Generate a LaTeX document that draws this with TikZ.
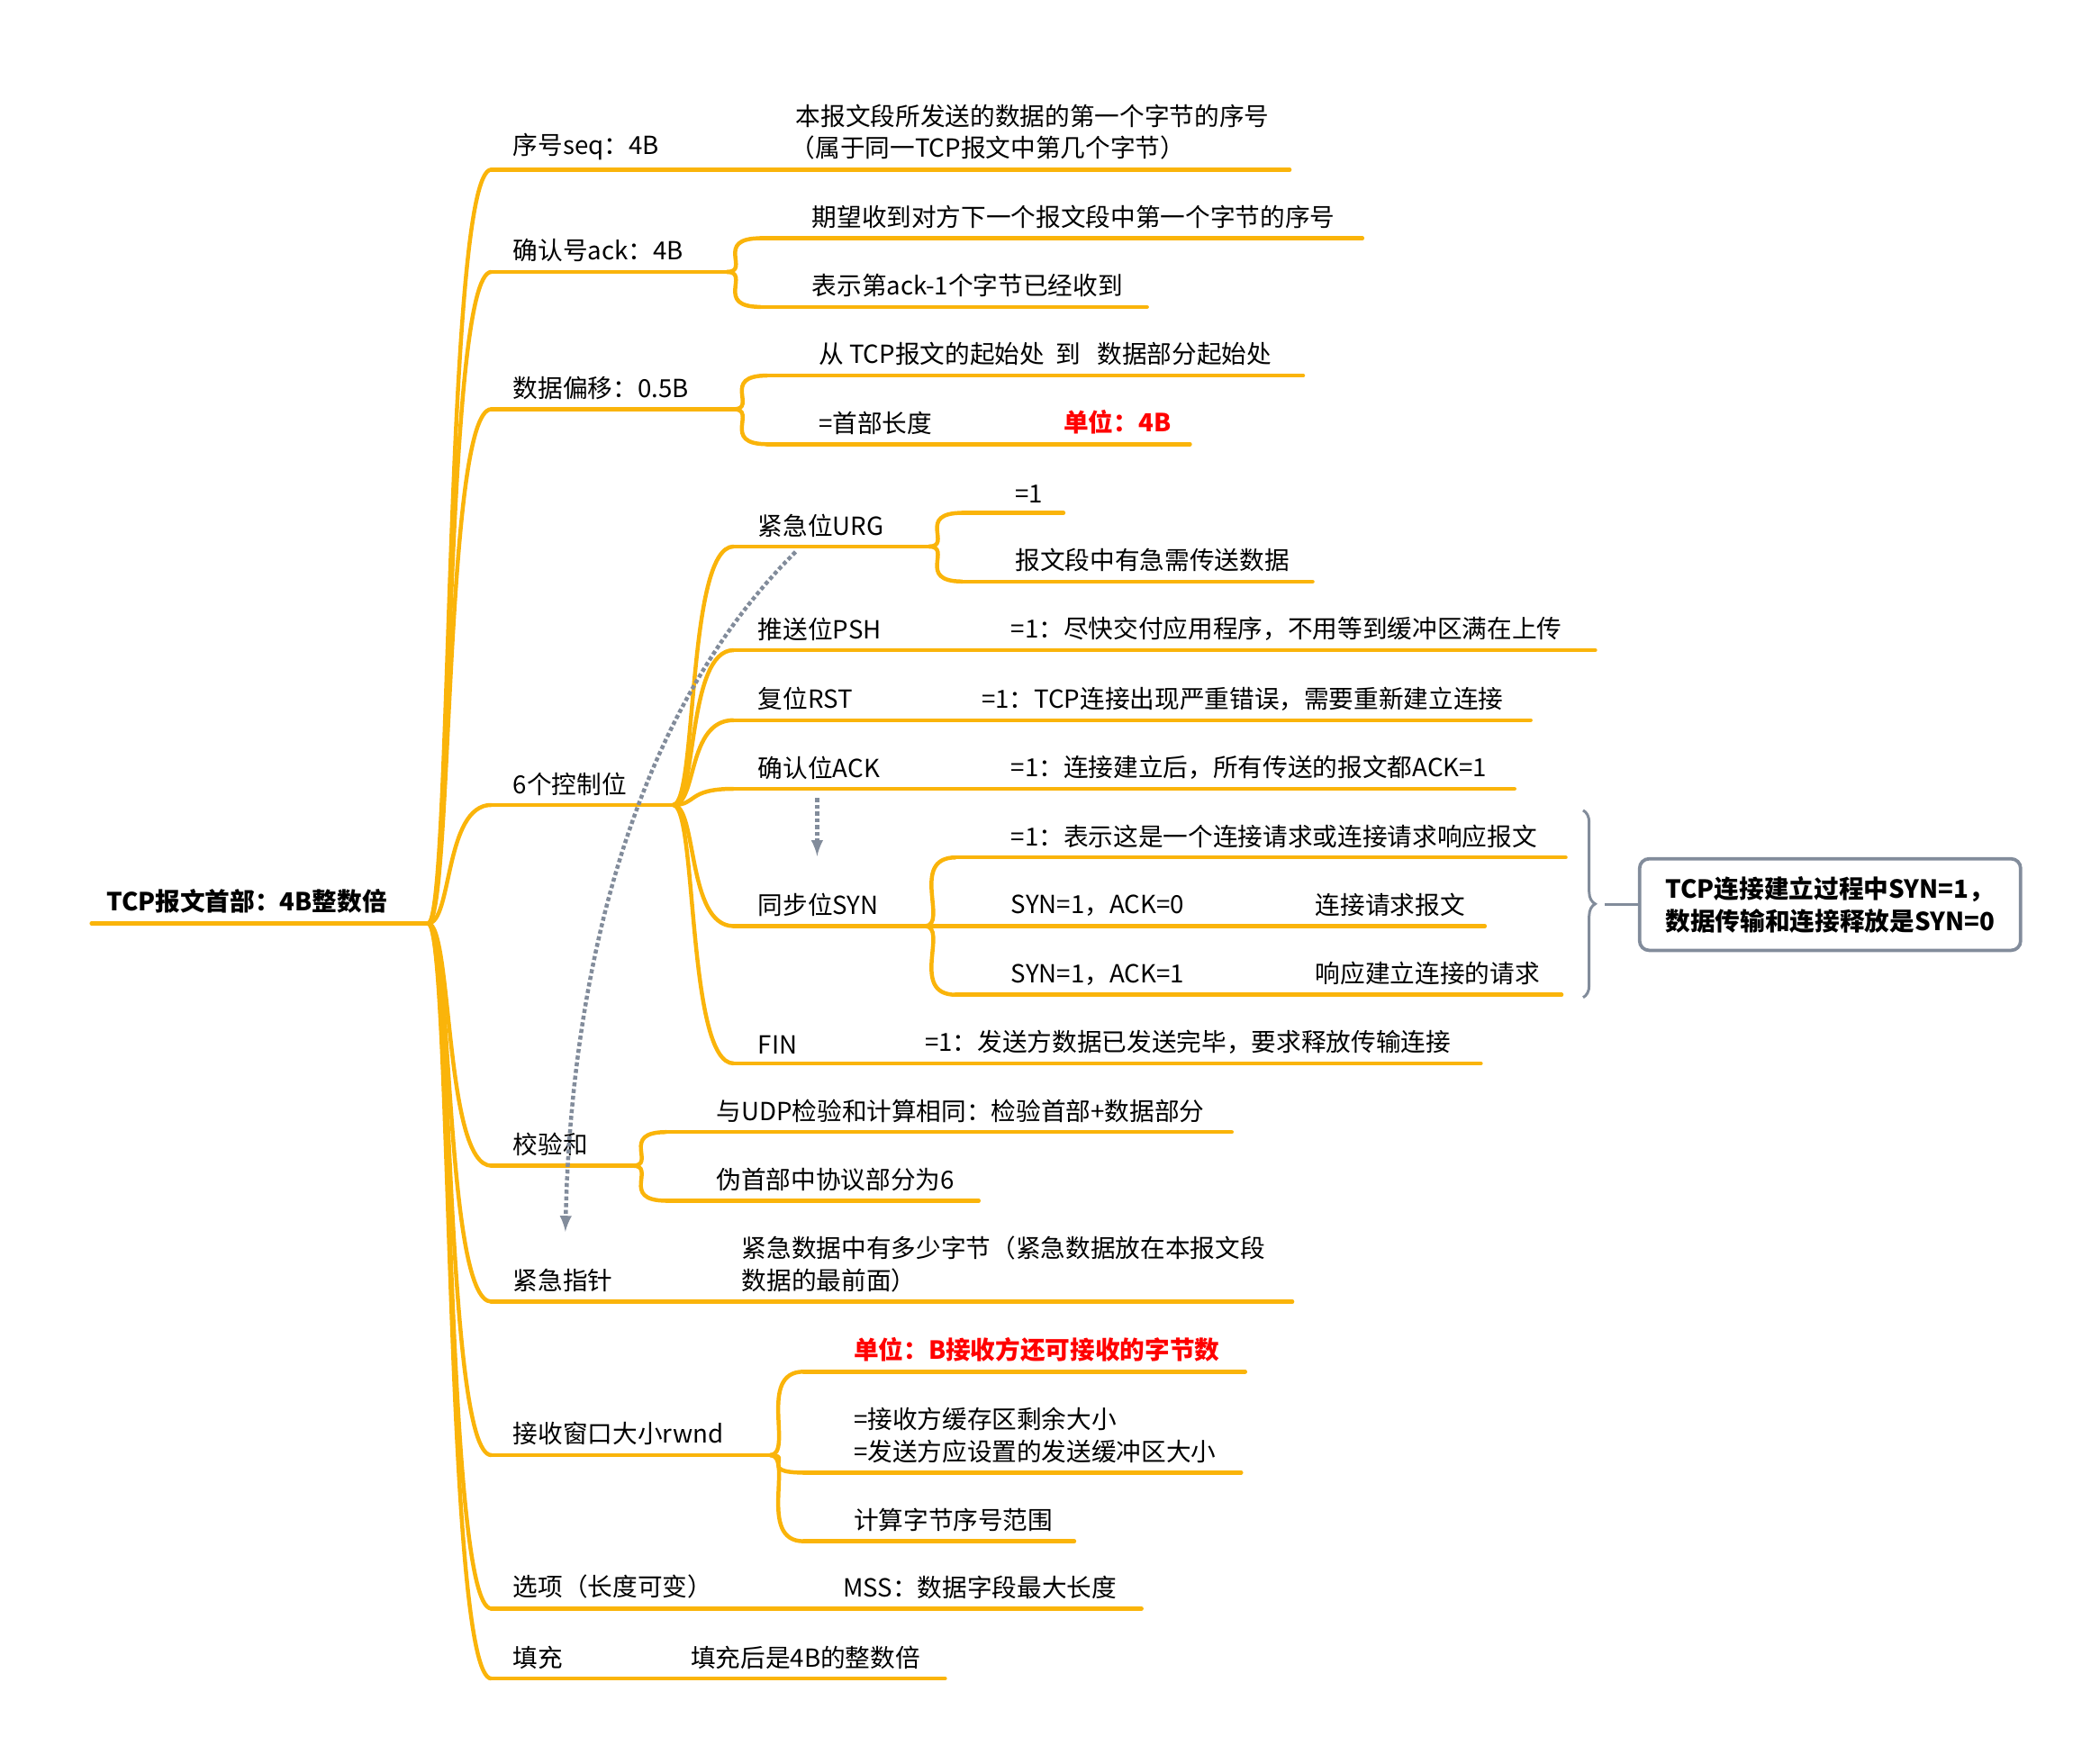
\documentclass[tikz,border=0pt]{standalone}
\usepackage{fontspec}
\setmainfont{Noto Sans CJK SC}
\usetikzlibrary{decorations.pathreplacing}
\definecolor{branch}{RGB}{250,180,10}
\definecolor{note}{RGB}{130,140,155}
\tikzset{
  twig/.style={draw=branch,line width=3pt,line cap=round},
  conn/.style={draw=branch,line width=3pt},
  lbl/.style={anchor=south west,inner sep=1pt,font=\fontsize{18.5}{24}\selectfont,align=left},
  hot/.style={lbl,text=red,font=\fontsize{18.5}{24}\selectfont\bfseries},
  hint/.style={draw=note,line width=3pt,dotted,-latex}
}
% underline of one topic: name, x start, x end, y
\newcommand\twig[4]{\coordinate (#1-s) at (#2,#4); \coordinate (#1-e) at (#3,#4);
  \draw[twig] (#1-s) -- (#1-e);}
\newcommand\link[2]{\draw[conn] (#1-e) .. controls +(18,0) and +(-35,0) .. (#2-s);}

\begin{document}
\begin{tikzpicture}[x=1pt,y=-1pt]
\useasboundingbox (0,0) rectangle (1560,1310);
% root
\twig{root}{68}{318}{686}
\node[lbl,font=\fontsize{18.5}{24}\selectfont\bfseries] (rootT) at (78,680) {TCP报文首部：4B整数倍};
% first level
\twig{seq}{365}{958}{126}
\twig{ack}{365}{540}{202}
\twig{off}{365}{545}{304}
\twig{ctl}{365}{500}{598}
\twig{chk}{365}{470}{866}
\twig{ptr}{365}{960}{967}
\twig{win}{365}{572}{1081}
\twig{opt}{365}{848}{1195}
\twig{pad}{365}{702}{1247}
\foreach \c in {seq,ack,off,ctl,chk,ptr,win,opt,pad}{\link{root}{\c}}
\node[lbl] (seqT) at (380,120) {序号seq：4B};
\node[lbl] (seqD) at (586,120) {\ 本报文段所发送的数据的第一个字节的序号\\（属于同一TCP报文中第几个字节）};
\node[lbl] (ackT) at (380,196) {确认号ack：4B};
\node[lbl] (offT) at (380,298) {数据偏移：0.5B};
\node[lbl] (ctlT) at (380,592) {6个控制位};
\node[lbl] (chkT) at (380,860) {校验和};
\node[lbl] (ptrT) at (380,961) {紧急指针};
\node[lbl] (ptrD) at (550,961) {紧急数据中有多少字节（紧急数据放在本报文段\\数据的最前面）};
\node[lbl] (winT) at (380,1075) {接收窗口大小rwnd};
\node[lbl] (optT) at (380,1189) {选项（长度可变）};
\node[lbl] (optD) at (625,1189) {MSS：数据字段最大长度};
\node[lbl] (padT) at (380,1241) {填充};
\node[lbl] (padD) at (512,1241) {填充后是4B的整数倍};
% ack
\twig{ackA}{565}{1012}{177} \twig{ackB}{565}{852}{228}
\link{ack}{ackA} \link{ack}{ackB}
\node[lbl] at (602,171) {期望收到对方下一个报文段中第一个字节的序号};
\node[lbl] at (602,222) {表示第ack-1个字节已经收到};
% offset
\twig{offA}{570}{968}{279} \twig{offB}{570}{884}{330}
\link{off}{offA} \link{off}{offB}
\node[lbl] at (607,273) {从 TCP报文的起始处\ \ 到\ \ \ 数据部分起始处};
\node[lbl] at (607,324) {=首部长度};
\node[hot] at (789,324) {单位：4B};
% control bits
\twig{urg}{545}{690}{406}
\twig{psh}{545}{1185}{483}
\twig{rst}{545}{1137}{535}
\twig{ackf}{545}{1125}{586}
\twig{syn}{545}{687}{688}
\twig{fin}{545}{1100}{790}
\foreach \c in {urg,psh,rst,ackf,syn,fin}{\link{ctl}{\c}}
\node[lbl] at (562,400) {紧急位URG};
\node[lbl] at (562,477) {推送位PSH};
\node[lbl] at (750,477) {=1：尽快交付应用程序，不用等到缓冲区满在上传};
\node[lbl] at (562,529) {复位RST};
\node[lbl] at (728,529) {=1：TCP连接出现严重错误，需要重新建立连接};
\node[lbl] at (562,580) {确认位ACK};
\node[lbl] at (750,580) {=1：连接建立后，所有传送的报文都ACK=1};
\node[lbl] at (562,682) {同步位SYN};
\node[lbl] at (562,784) {FIN};
\node[lbl] at (686,784) {=1：发送方数据已发送完毕，要求释放传输连接};
% urg
\twig{urgA}{715}{790}{381} \twig{urgB}{715}{975}{432}
\link{urg}{urgA} \link{urg}{urgB}
\node[lbl] at (753,375) {=1};
\node[lbl] at (753,426) {报文段中有急需传送数据};
% syn
\twig{synA}{710}{1163}{637} \twig{synB}{710}{1103}{688} \twig{synC}{710}{1160}{739}
\link{syn}{synA} \link{syn}{synB} \link{syn}{synC}
\node[lbl] at (750,631) {=1：表示这是一个连接请求或连接请求响应报文};
\node[lbl] at (750,682) {SYN=1，ACK=0};
\node[lbl] at (976,682) {连接请求报文};
\node[lbl] at (750,733) {SYN=1，ACK=1};
\node[lbl] at (976,733) {响应建立连接的请求};
% checksum
\twig{chkA}{495}{915}{841} \twig{chkB}{495}{727}{892}
\link{chk}{chkA} \link{chk}{chkB}
\node[lbl] at (531,835) {与UDP检验和计算相同：检验首部+数据部分};
\node[lbl] at (531,886) {伪首部中协议部分为6};
% window
\twig{winA}{597}{925}{1019} \twig{winB}{597}{922}{1094} \twig{winC}{597}{798}{1145}
\link{win}{winA} \link{win}{winB} \link{win}{winC}
\node[hot] at (633,1013) {单位：B接收方还可接收的字节数};
\node[lbl] at (633,1088) {=接收方缓存区剩余大小\\=发送方应设置的发送缓冲区大小};
\node[lbl] at (633,1139) {计算字节序号范围};
% summary note
\draw[note,line width=2pt,decorate,decoration={brace,amplitude=9pt}] (1176,602) -- (1176,741);
\node[draw=note,line width=2.5pt,rounded corners=7pt,minimum width=283pt,minimum height=68pt,
  align=left,font=\fontsize{18.5}{24}\selectfont\bfseries] (sum) at (1359.5,672)
  {TCP连接建立过程中SYN=1，\\数据传输和连接释放是SYN=0};
\draw[note,line width=2pt] (1192,672) -- (sum.west);
% hints
\coordinate (h1) at (591,410); \coordinate (h2) at (420,915);
\draw[hint] (h1) .. controls (480,520) and (425,700) .. (h2);
\coordinate (h3) at (607,593); \coordinate (h4) at (607,636);
\draw[hint] (h3) -- (h4);
\end{tikzpicture}
\end{document}
